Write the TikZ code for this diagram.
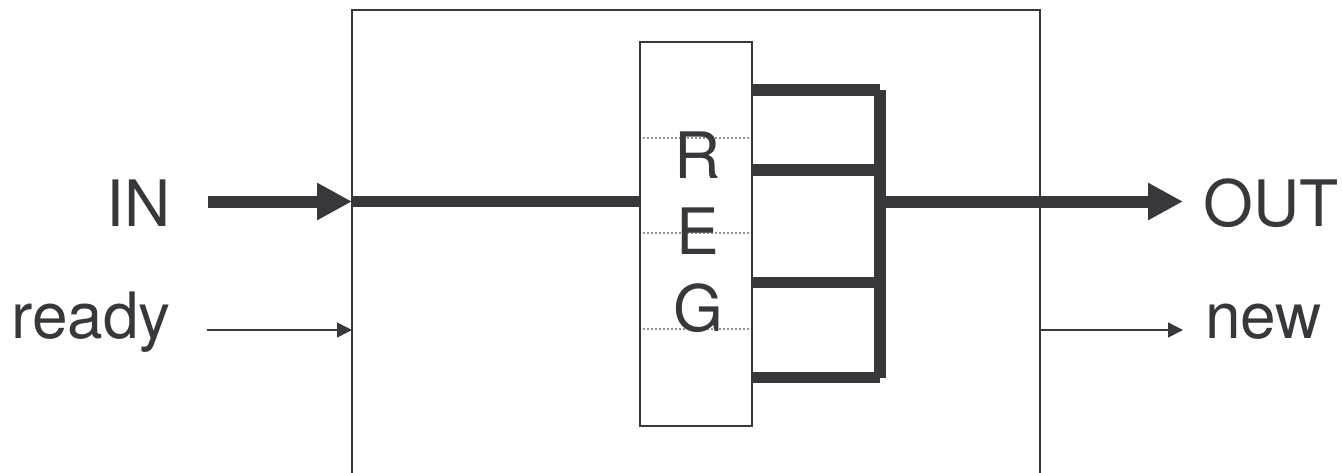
\documentclass[tikz,border=0pt]{standalone}
\usepackage{fontspec}
\setmainfont{TeX Gyre Heros}
\usetikzlibrary{arrows.meta,calc}
\definecolor{ink}{RGB}{56,55,60}

\begin{document}
\begin{tikzpicture}[x=1pt, y=-1pt, ink, font=\fontsize{64}{70}\selectfont,
    frame/.style={draw=ink, line width=2pt, inner sep=0pt, outer sep=0pt},
    bus/.style={draw=ink, line width=11.5pt},
    bigarrow/.style={draw=ink, line width=12pt, -{Triangle[length=35pt,width=35pt]}},
    smallarrow/.style={draw=ink, line width=1.5pt, -{Triangle[length=15pt,width=15pt]}},
    sep/.style={draw=gray!85, line width=1.2pt, dash pattern=on 2pt off 2pt}]
  \useasboundingbox (0,0) rectangle (1342,472);
  \clip (0,0) rectangle (1342,472);
  %% Block and register
  \node[frame, minimum width=688pt, minimum height=520pt, anchor=north west]
    (blk) at (352,10) {};
  \node[frame, minimum width=112pt, minimum height=384pt, anchor=north west]
    (reg) at (640,42) {};
  \foreach \y in {138,233,329}
    \draw[sep] ($(reg.west |- 0,\y)+(3,0)$) -- ($(reg.east |- 0,\y)+(-3,0)$);
  \foreach \ch/\y [count=\i] in {R/178,E/254,G/331}
    \node[anchor=base, inner sep=0pt] (ch\i) at (698,\y) {\ch};
  %% Labels
  \node[anchor=base east, inner sep=0pt] (in)    at (171,226) {IN};
  \node[anchor=base east, inner sep=0pt] (ready) at (171,338) {ready};
  \node[anchor=base west, inner sep=0pt] (out)   at (1203,226) {OUT};
  \node[anchor=base west, inner sep=0pt] (new)   at (1205,338) {new};
  %% Levels
  \coordinate (data) at (0,201.5);
  \coordinate (ctl)  at (0,330);
  \coordinate (inS)  at (208,201.5);
  \coordinate (rdS)  at (207,330);
  \coordinate (outT) at (1183,201.5);
  \coordinate (newT) at (1183,330);
  %% Register fan-out
  \foreach \y [count=\i] in {90,170,282.5,377.5}{
    \coordinate (b\i) at (880,\y);
    \draw[bus] (reg.east |- b\i) -- (b\i);
  }
  \draw[bus] (b1) -- (b4);
  %% Data path
  \draw[bigarrow] (inS) -- (blk.west |- data);
  \draw[bus] (blk.west |- data) -- (reg.west |- data);
  \draw[bigarrow] (b1 |- data) -- (outT);
  %% Handshake
  \draw[smallarrow] (rdS) -- (blk.west |- ctl);
  \draw[smallarrow] (blk.east |- ctl) -- (newT);
\end{tikzpicture}
\end{document}
